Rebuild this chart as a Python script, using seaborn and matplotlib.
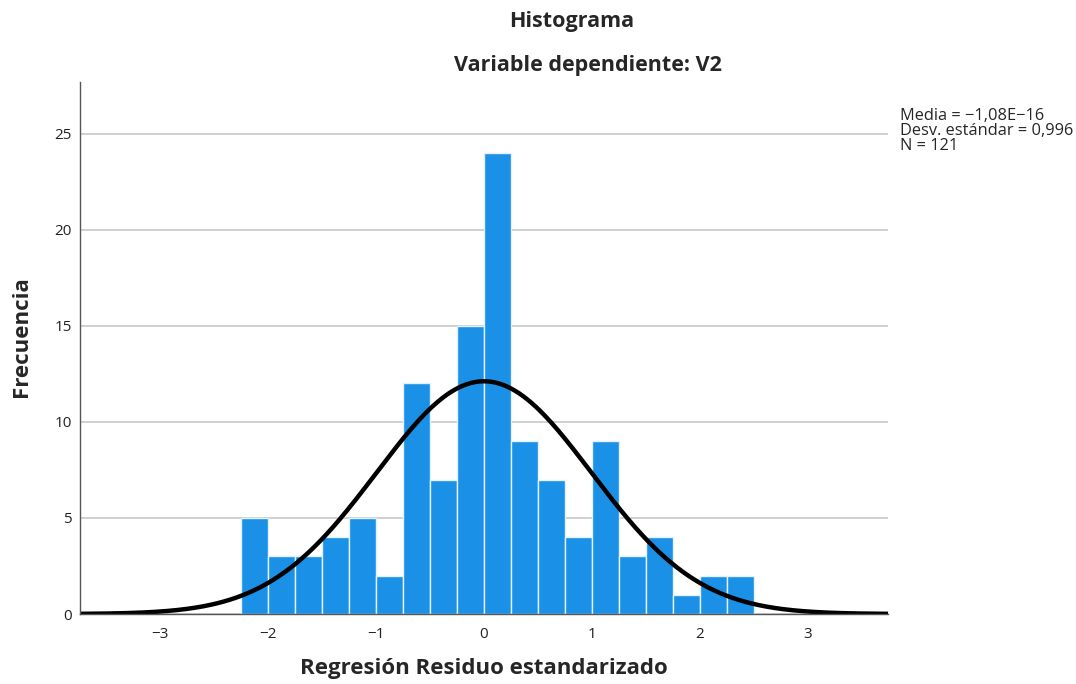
import numpy as np
import pandas as pd
import matplotlib
matplotlib.use("Agg")
import matplotlib.pyplot as plt
import seaborn as sns

# bin edges (width 0.25) and frequencies
bin_edges = [-2.25, -2.0, -1.75, -1.5, -1.25, -1.0, -0.75, -0.5, -0.25, 0.0,
             0.25, 0.5, 0.75, 1.0, 1.25, 1.5, 1.75, 2.0, 2.25, 2.5]
counts = [5, 3, 3, 4, 5, 2, 12, 7, 15, 24, 9, 7, 4, 9, 3, 4, 1, 2, 2]
media = -1.08e-16
desv = 0.996
n = 121

edges = np.array(bin_edges)
centers = (edges[:-1] + edges[1:]) / 2
df = pd.DataFrame({"residuo": centers, "freq": counts})

sns.set_theme(style="white")
plt.rcParams["font.family"] = ["Open Sans", "DejaVu Sans"]

fig = plt.figure(figsize=(10.76, 6.84), dpi=100)
ax = fig.add_axes([0.0743, 0.1023, 0.751, 0.778])
ax.set_axisbelow(True)
ax.yaxis.grid(True, color="#c8c8c8", linewidth=1.2)

sns.histplot(data=df, x="residuo", weights="freq", bins=list(bin_edges), color="#1a90e6",
             edgecolor="#e3f1fc", linewidth=1.0, alpha=1, ax=ax)

# normal curve scaled to the histogram
xs = np.linspace(-3.74, 3.74, 400)
pdf = n * 0.25 / (desv * np.sqrt(2 * np.pi)) * np.exp(-0.5 * ((xs - media) / desv) ** 2)
sns.lineplot(x=xs, y=pdf, color="black", linewidth=3.2, ax=ax)

ax.set_xlim(-3.74, 3.74)
ax.set_ylim(0, 27.7)
ax.set_xticks([-3, -2, -1, 0, 1, 2, 3])
ax.set_xticklabels(["\u22123", "\u22122", "\u22121", "0", "1", "2", "3"])
ax.set_yticks([0, 5, 10, 15, 20, 25])
ax.tick_params(axis="both", length=0, labelsize=11, colors="#222222")
ax.tick_params(axis="x", pad=9)
ax.tick_params(axis="y", pad=6)
for s in ["top", "right"]:
    ax.spines[s].set_visible(False)
ax.spines["left"].set_color("#555555")
ax.spines["bottom"].set_color("#555555")
ax.spines["left"].set_linewidth(1.0)
ax.spines["bottom"].set_linewidth(1.0)

ax.set_xlabel("")
ax.set_ylabel("")
fig.text(0.450, 0.023, "Regresión Residuo estandarizado", ha="center", va="center",
         fontsize=16, fontweight="bold")
fig.text(0.020, 0.508, "Frecuencia", ha="center", va="center", rotation=90,
         fontsize=16, fontweight="bold")

fig.text(0.531, 0.969, "Histograma", ha="center", va="center", fontsize=15.5, fontweight="bold")
fig.text(0.546, 0.904, "Variable dependiente: V2", ha="center", va="center",
         fontsize=15.5, fontweight="bold")

fig.text(0.836, 0.8085,
         "Media = \u22121,08E\u221216\nDesv. estándar = 0,996\nN = 121",
         ha="left", va="center", fontsize=11.8, linespacing=0.9)

fig.savefig("out.png", dpi=100)
